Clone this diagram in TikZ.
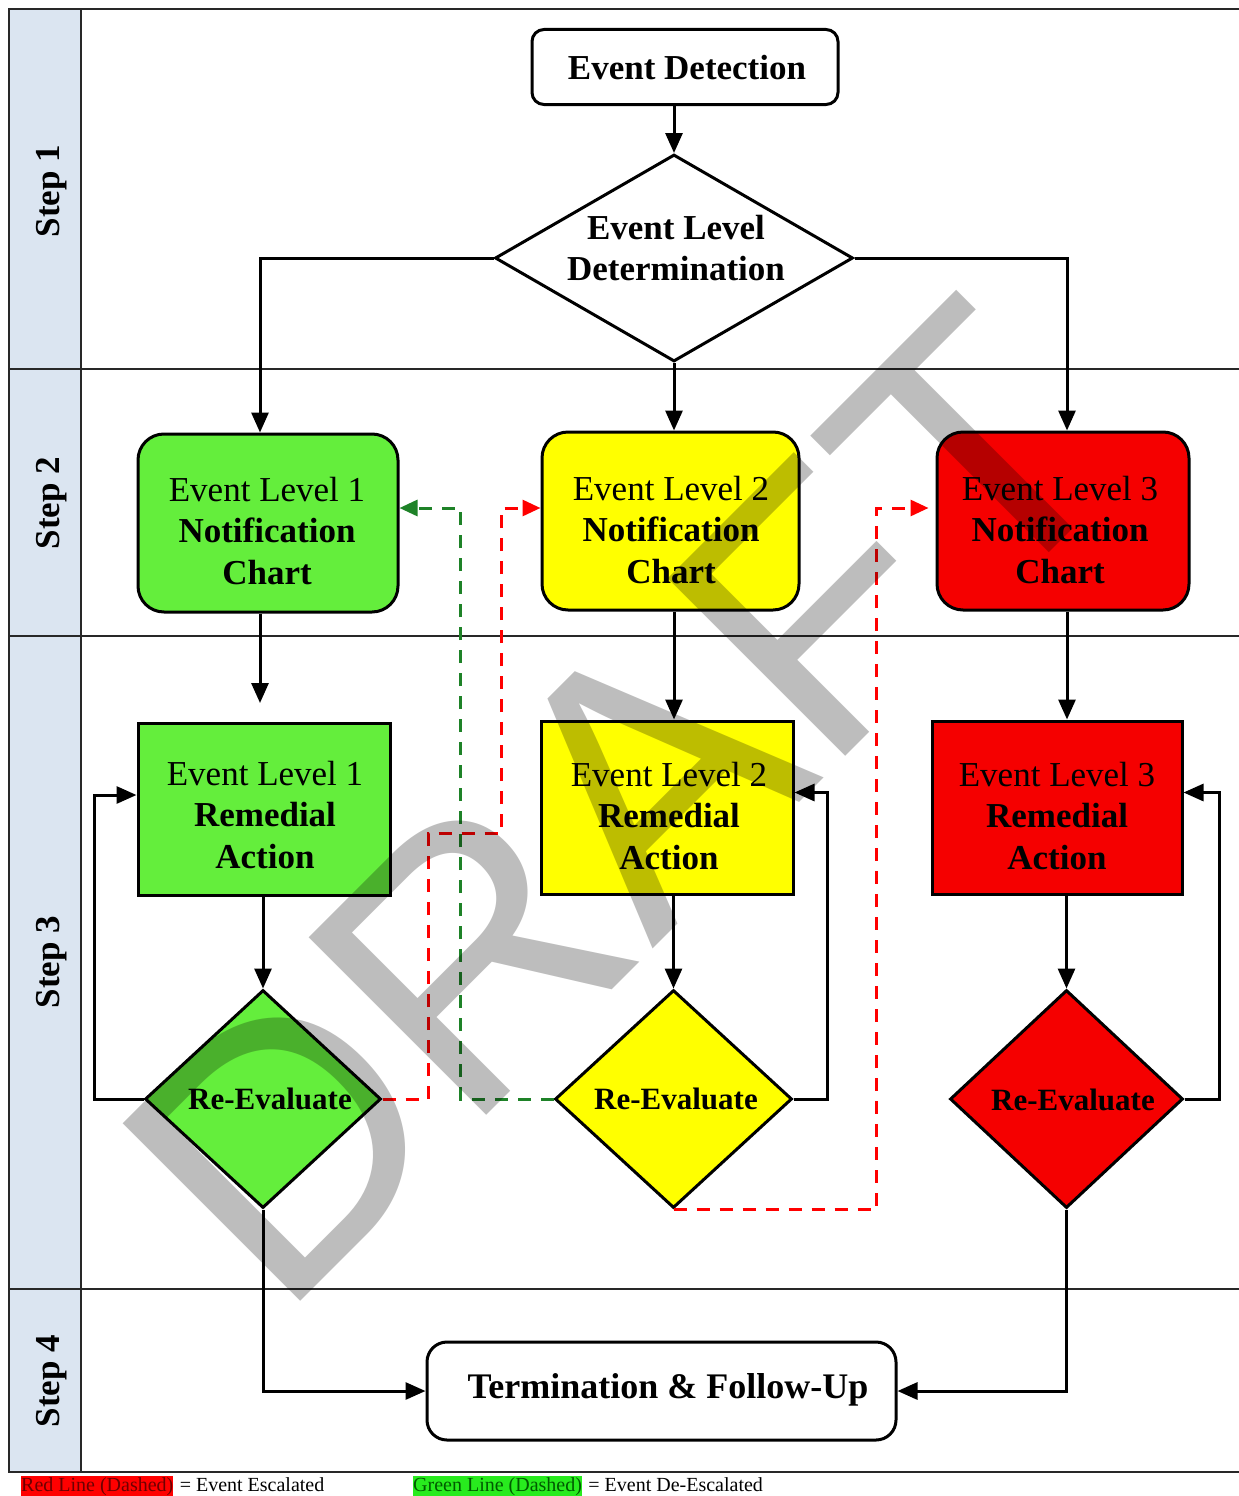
\documentclass[tikz,border=0pt]{standalone}
\usepackage{fontspec}
\setmainfont{Liberation Serif}
\newfontfamily\wmfont{Liberation Sans}
\usetikzlibrary{arrows.meta,shapes.geometric,calc}
\definecolor{lanebg}{RGB}{219,229,241}
\definecolor{lgreen}{RGB}{100,238,60}
\definecolor{lyellow}{RGB}{255,255,0}
\definecolor{lred}{RGB}{245,0,0}
\definecolor{dashred}{RGB}{255,0,0}
\definecolor{dashgreen}{RGB}{30,130,40}
\definecolor{gridc}{RGB}{40,40,40}
\definecolor{legredtxt}{RGB}{110,0,0}
\definecolor{leggreentxt}{RGB}{0,90,0}
\definecolor{leggreen}{RGB}{40,235,30}
\begin{document}
\begin{tikzpicture}[x=1pt,y=-1pt,
  bx/.style={draw=black, line width=3pt, inner sep=0pt},
  rbx/.style={bx, rounded corners=26pt},
  dia/.style={diamond, draw=black, line width=3pt, inner sep=0pt},
  ttxt/.style={align=center, inner sep=0pt, font=\fontsize{35}{41.5}\selectfont},
  steplbl/.style={rotate=90, inner sep=0pt, font=\bfseries\fontsize{35}{35}\selectfont},
  conn/.style={draw=black, line width=3pt, -{Triangle[length=20pt,width=17pt]}},
  rdash/.style={draw=dashred, line width=3pt, dash pattern=on 13pt off 10pt,
    -{Triangle[length=18pt,width=16pt]}},
  gdash/.style={draw=dashgreen, line width=3pt, dash pattern=on 13pt off 10pt,
    -{Triangle[length=18pt,width=16pt]}},
  legtxt/.style={inner xsep=0pt, inner ysep=0pt, text height=15pt, text depth=5pt,
    font=\fontsize{20}{22}\selectfont}
]
\useasboundingbox (0,0) rectangle (1239,1496);
\fill[white] (0,0) rectangle (1239,1496);
% lanes
\fill[lanebg] (9,9) rectangle (81,1472);
\draw[gridc, line width=1.5pt] (1239,9) -- (9,9) -- (9,1472) -- (1239,1472);
\draw[gridc, line width=1.5pt] (81,9) -- (81,1472);
\draw[gridc, line width=1.5pt] (9,369) -- (1239,369);
\draw[gridc, line width=1.5pt] (9,636) -- (1239,636);
\draw[gridc, line width=1.5pt] (9,1289) -- (1239,1289);
\node[steplbl] (s1) at (52,191) {Step 1};
\node[steplbl] (s2) at (52,503) {Step 2};
\node[steplbl] (s3) at (52,962) {Step 3};
\node[steplbl] (s4) at (52,1381) {Step 4};

% step 1
\node[bx, rounded corners=12pt, fill=white, minimum width=306pt, minimum height=75pt] (ed) at (685,67) {};
\node[ttxt, font=\bfseries\fontsize{35}{41}\selectfont] (edt) at (687,68) {Event Detection};
\node[dia, fill=white, minimum width=358pt, minimum height=207pt] (d0) at (674,258) {};
\node[ttxt, font=\bfseries\fontsize{35}{41}\selectfont] (d0t) at (676,248) {Event Level\\Determination};

% step 2
\node[rbx, fill=lgreen, minimum width=260pt, minimum height=178pt] (n1) at (268,523) {};
\node[rbx, fill=lyellow, minimum width=257pt, minimum height=178pt] (n2) at (670.5,521) {};
\node[rbx, fill=lred, minimum width=252pt, minimum height=178pt] (n3) at (1063,521) {};
\node[ttxt] (n1t) at (267,531) {Event Level 1\\\textbf{Notification}\\\textbf{Chart}};
\node[ttxt] (n2t) at (671,530) {Event Level 2\\\textbf{Notification}\\\textbf{Chart}};
\node[ttxt] (n3t) at (1060,530) {Event Level 3\\\textbf{Notification}\\\textbf{Chart}};

% step 3
\node[bx, fill=lgreen, minimum width=252pt, minimum height=172pt] (r1) at (264,809) {};
\node[bx, fill=lyellow, minimum width=252pt, minimum height=173pt] (r2) at (667,807.5) {};
\node[bx, fill=lred, minimum width=250pt, minimum height=173pt] (r3) at (1057,807.5) {};
\node[ttxt] (r1t) at (265,815) {Event Level 1\\\textbf{Remedial}\\\textbf{Action}};
\node[ttxt] (r2t) at (669,816) {Event Level 2\\\textbf{Remedial}\\\textbf{Action}};
\node[ttxt] (r3t) at (1057,816) {Event Level 3\\\textbf{Remedial}\\\textbf{Action}};

\node[dia, fill=lgreen, minimum width=236pt, minimum height=218pt] (e1) at (263,1099) {};
\node[dia, fill=lyellow, minimum width=237pt, minimum height=218pt] (e2) at (673.5,1099) {};
\node[dia, fill=lred, minimum width=233pt, minimum height=218pt] (e3) at (1066.5,1099) {};
\node[ttxt, font=\bfseries\fontsize{31}{35}\selectfont] (e1t) at (270,1099) {Re-Evaluate};
\node[ttxt, font=\bfseries\fontsize{31}{35}\selectfont] (e2t) at (676,1099) {Re-Evaluate};
\node[ttxt, font=\bfseries\fontsize{31}{35}\selectfont] (e3t) at (1073,1100) {Re-Evaluate};

% step 4
\node[bx, rounded corners=20pt, fill=white, minimum width=469pt, minimum height=98pt] (t) at (661.5,1391) {};
\node[ttxt, font=\bfseries\fontsize{36}{41}\selectfont] (tt) at (668,1390) {Termination \& Follow-Up};

% connectors
\draw[conn] ([xshift=-11pt]ed.south) -- (d0.north);
\draw[conn] (d0.west) -| ([xshift=-8pt]n1.north);
\draw[conn] (d0.south) -- (d0.south |- n2.north);
\draw[conn] (d0.east) -| ([xshift=4pt]n3.north);
\coordinate (a1) at (260,703);
\draw[conn] ([xshift=-8pt]n1.south) -- (a1);
\draw[conn] (d0.south |- n2.south) -- (d0.south |- r2.north);
\draw[conn] ([xshift=4pt]n3.south) -- ([xshift=4pt]n3.south |- r3.north);
\draw[conn] (r1.south -| e1.north) -- (e1.north);
\draw[conn] (r2.south -| e2.north) -- (e2.north);
\draw[conn] (r3.south -| e3.north) -- (e3.north);
\draw[conn] (e1.west) -- ++(-49,0) |- ([yshift=14pt]r1.west);
\draw[conn] (e2.east) -- ++(34,0) |- ([yshift=15pt]r2.east);
\draw[conn] (e3.east) -- ++(35,0) |- ([yshift=15pt]r3.east);
\draw[conn] (e1.south) |- (t.west);
\draw[conn] (e3.south) |- (t.east);

% dashed escalation / de-escalation
\draw[rdash] (e1.east) -- ++(46,0) -- ++(0,-266) -- ++(73,0) |- ([yshift=13pt]n2.west);
\draw[gdash] (e2.west) -- ++(-93,0) |- ([yshift=15pt]n1.east);
\draw[rdash, shorten >=7pt] (e2.south) -- ++(203,0) |- ([yshift=13pt]n3.west);

% legend
\node[legtxt, anchor=base west, fill=dashred, text=legredtxt] (lg1) at (21,1491) {Red Line (Dashed)};
\node[legtxt, anchor=base west] (lg1b) at ([xshift=6pt]lg1.base east) {= Event Escalated};
\node[legtxt, anchor=base west, fill=leggreen, text=leggreentxt] (lg2) at (413,1491) {Green Line (Dashed)};
\node[legtxt, anchor=base west] (lg2b) at ([xshift=6pt]lg2.base east) {= Event De-Escalated};

% watermark
\node[anchor=base west, rotate=45, inner sep=0pt, text=black, text opacity=0.26,
  font=\wmfont\fontsize{365}{365}\selectfont] (wm) at (279.5,1322.5) {DRAFT};
\end{tikzpicture}
\end{document}
